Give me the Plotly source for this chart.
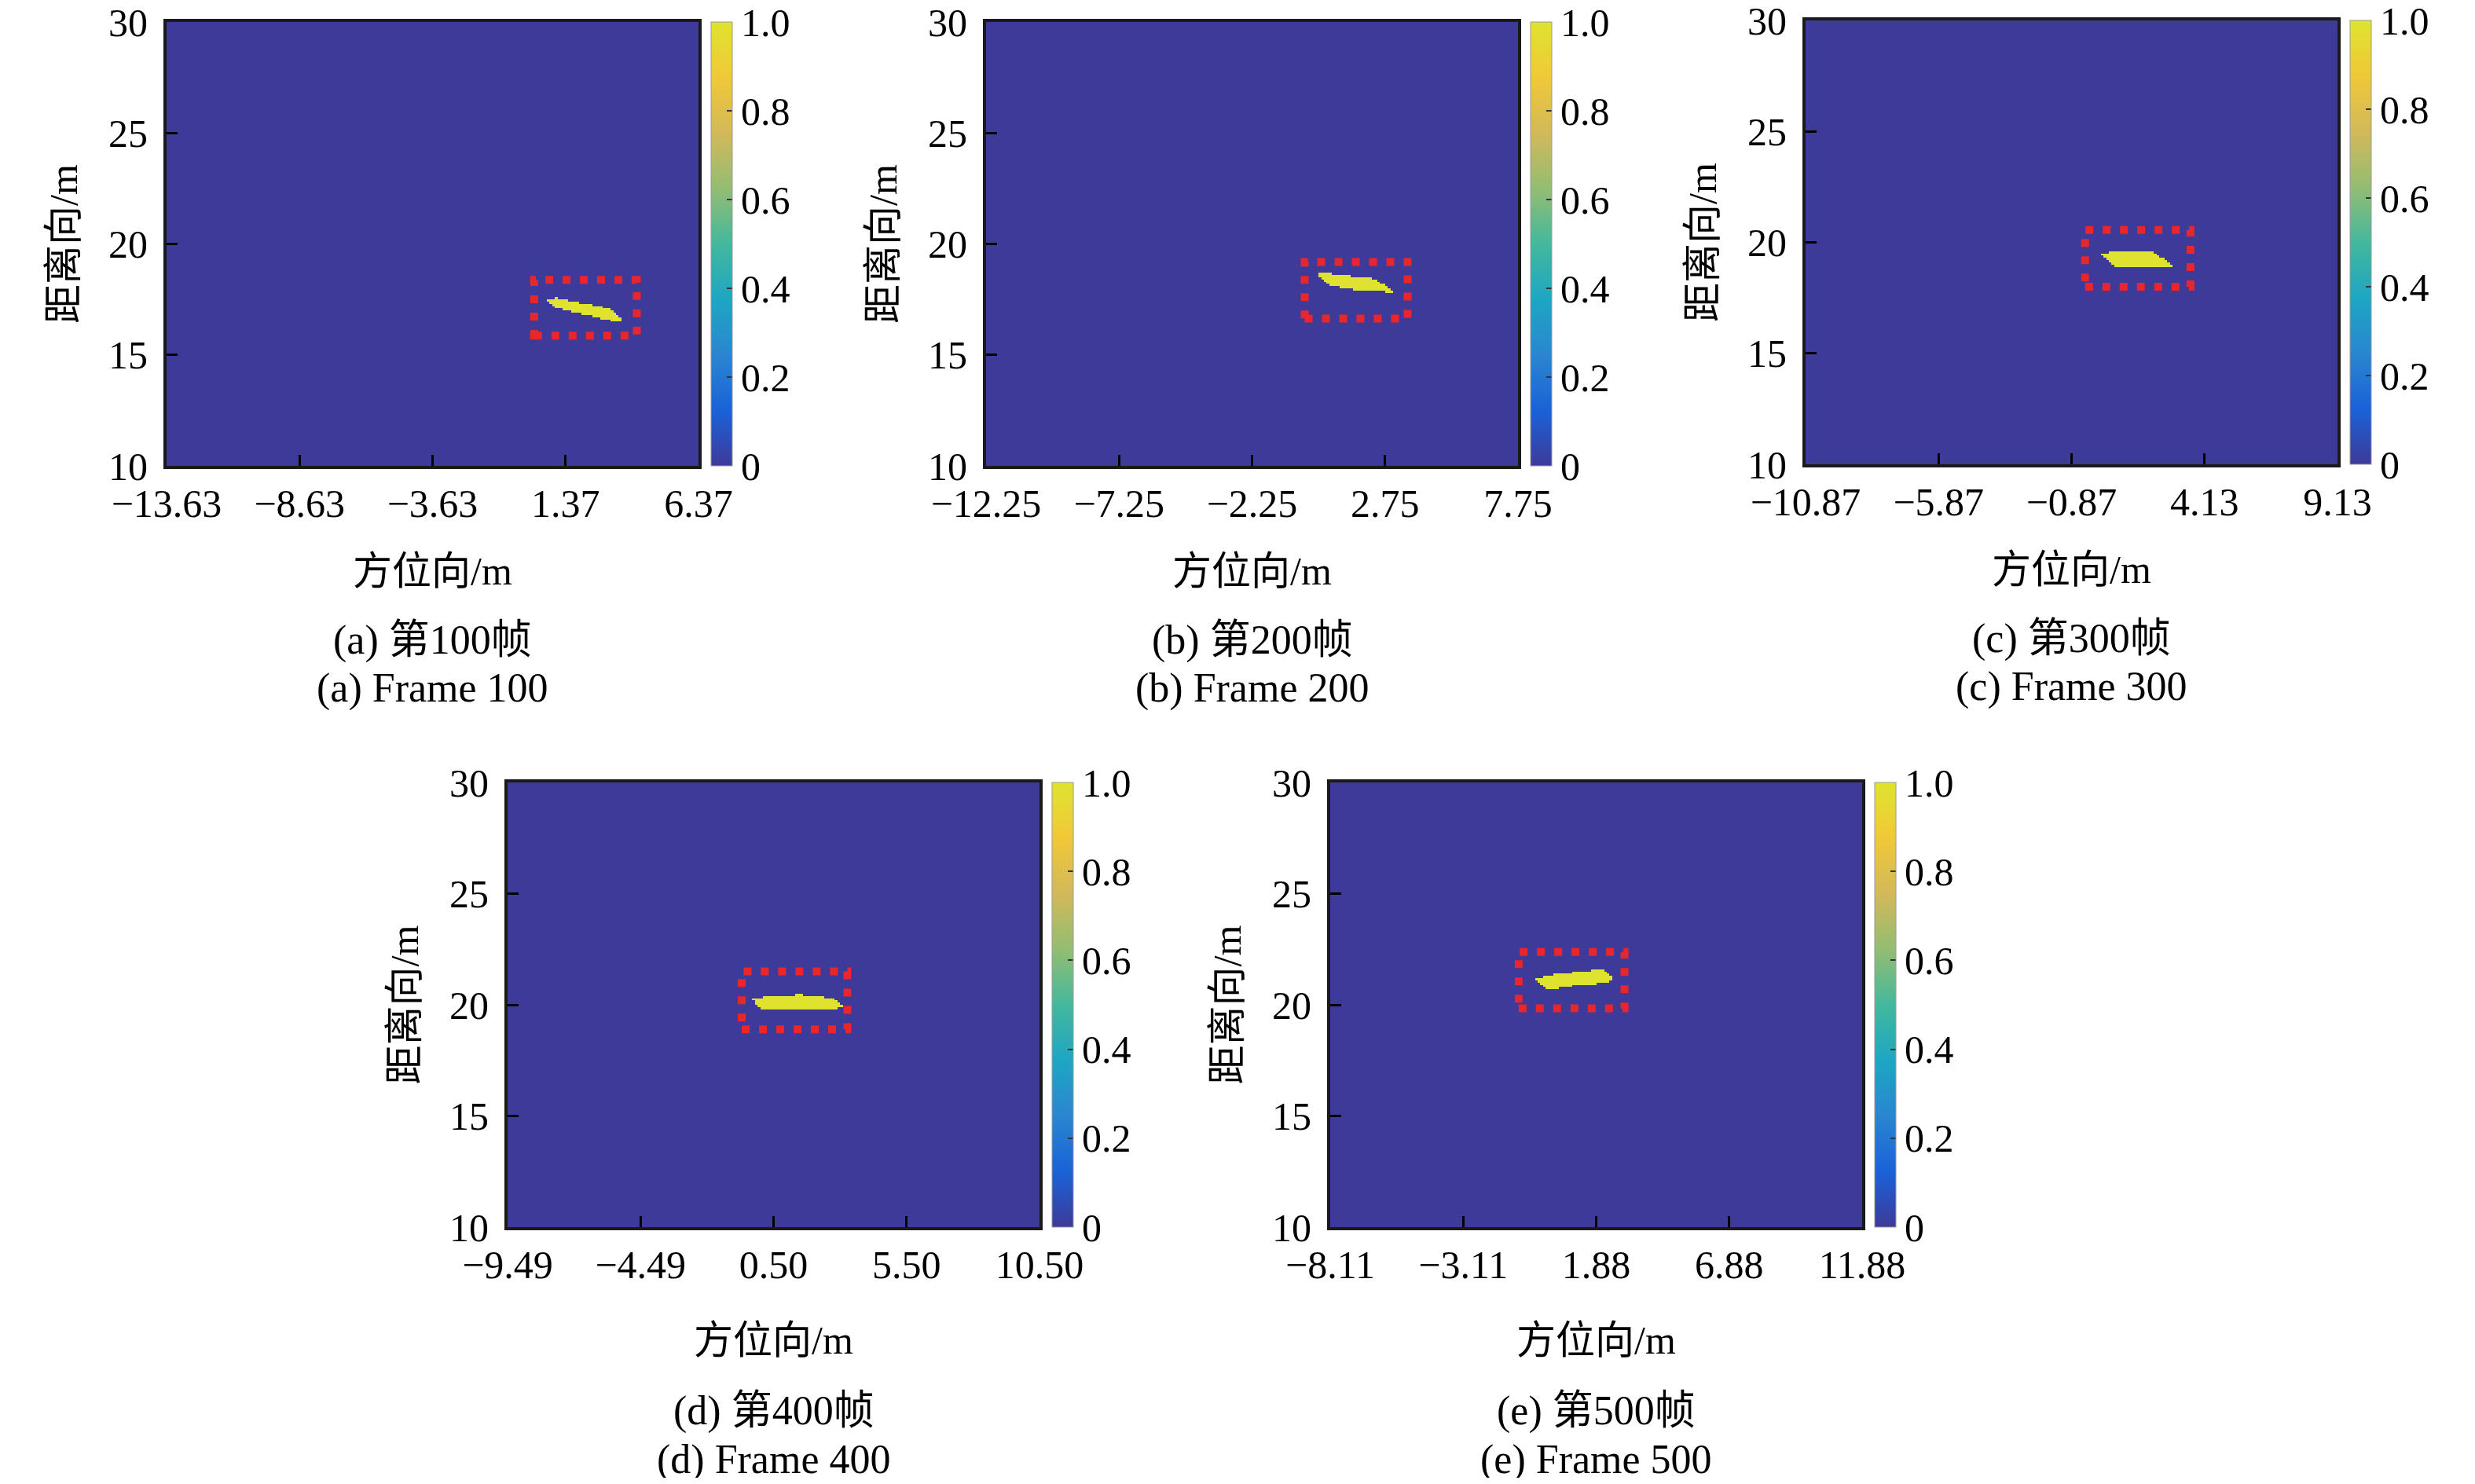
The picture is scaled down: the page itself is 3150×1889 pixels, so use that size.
import numpy as np
import plotly.graph_objects as go

# ---------------- data ----------------
panel_letters = ["a", "b", "c", "d", "e"]
frame_numbers = ["100", "200", "300", "400", "500"]

# azimuth axis (x) start of range for each frame, range width 20 m
x_range_start = [-13.63, -12.25, -10.87, -9.495, -8.115]
x_tick_labels = [
    ["−13.63", "−8.63", "−3.63", "1.37", "6.37"],
    ["−12.25", "−7.25", "−2.25", "2.75", "7.75"],
    ["−10.87", "−5.87", "−0.87", "4.13", "9.13"],
    ["−9.49", "−4.49", "0.50", "5.50", "10.50"],
    ["−8.11", "−3.11", "1.88", "6.88", "11.88"],
]
y_tick_values = [10, 15, 20, 25, 30]
cbar_tick_values = [0, 0.2, 0.4, 0.6, 0.8, 1.0]
cbar_tick_labels = ["0", "0.2", "0.4", "0.6", "0.8", "1.0"]

# detected target outline (azimuth m, range m) for each frame
blob_a_x = [0.64, 0.99, 1.87, 2.95, 3.35, 3.56, 2.95, 1.97, 0.99, 0.74]
blob_a_y = [17.49, 17.56, 17.35, 17.11, 16.82, 16.47, 16.58, 16.86, 17.11, 17.38]
blob_b_x = [0.20, 1.24, 2.18, 2.56, 3.09, 1.99, 1.24, 0.67, 0.26]
blob_b_y = [18.77, 18.56, 18.52, 18.27, 17.83, 17.89, 18.00, 18.14, 18.56]
blob_c_x = [0.17, 0.58, 1.15, 2.19, 2.56, 2.94, 2.66, 1.72, 0.77, 0.30]
blob_c_y = [19.50, 19.56, 19.60, 19.56, 19.29, 18.94, 18.87, 18.89, 18.94, 19.35]
blob_d_x = [-0.28, 0.35, 1.11, 1.30, 1.96, 2.71, 3.09, 2.81, 1.67, 0.35, 0.01, -0.16]
blob_d_y = [20.30, 20.38, 20.38, 20.46, 20.44, 20.30, 19.92, 19.79, 19.81, 19.79, 19.81, 20.06]
blob_e_x = [-0.42, 0.02, 0.87, 1.44, 2.10, 2.57, 2.38, 2.00, 1.25, 0.49, 0.02, -0.27]
blob_e_y = [21.15, 21.32, 21.43, 21.53, 21.58, 21.22, 21.05, 20.96, 20.90, 20.75, 20.73, 21.00]

# red dotted boxes (data units)
box_x0 = [0.19, -0.27, -0.36, -0.69, -1.03]
box_x1 = [4.05, 3.60, 3.60, 3.28, 2.95]
box_y0 = [15.87, 16.64, 18.00, 18.90, 19.84]
box_y1 = [18.38, 19.19, 20.56, 21.50, 22.38]

blobs = [(blob_a_x, blob_a_y), (blob_b_x, blob_b_y), (blob_c_x, blob_c_y),
         (blob_d_x, blob_d_y), (blob_e_x, blob_e_y)]

# ---------------- layout geometry (pixels in the 3150x1889 page) ----------------
OFF = 8                      # default page body margin
W, H = 3150 - 2 * OFF, 1889 - 2 * OFF
panels_px = [  # left, right, top, bottom
    (212, 889, 28, 593),
    (1255, 1932, 28, 593),
    (2298, 2975, 26, 591),
    (646, 1323, 996, 1562),
    (1693, 2370, 996, 1562),
]
caption_y_px = [(815, 876), (815, 876), (813, 874), (1796, 1858), (1796, 1858)]
xtitle_standoff = [42, 42, 42, 52, 52]

FONT = "Liberation Serif, Noto Sans CJK SC"
FS = 50
FS_CAP = 52

parula = [
    [0.0, "#3e3a99"], [0.125, "#1a62d8"], [0.25, "#2a86d0"], [0.375, "#1ea6c3"],
    [0.5, "#44b89d"], [0.625, "#93bd72"], [0.75, "#d2b95a"], [0.875, "#f0c838"],
    [1.0, "#dfe32f"],
]


def rasterize(px, py, xc, yc):
    X, Y = np.meshgrid(xc, yc)
    inside = np.zeros(X.shape, dtype=bool)
    n = len(px)
    j = n - 1
    for i in range(n):
        xi, yi, xj, yj = px[i], py[i], px[j], py[j]
        if yi != yj:
            cond = ((yi > Y) != (yj > Y)) & (X < (xj - xi) * (Y - yi) / (yj - yi) + xi)
            inside ^= cond
        j = i
    return inside.astype(float)


fig = go.Figure()
step = 0.1
for k in range(5):
    l, r, t, b = [v - OFF for v in panels_px[k]]
    x0 = x_range_start[k]
    xc = np.round(np.arange(x0 + step / 2, x0 + 20, step), 4)
    yc = np.round(np.arange(10 + step / 2, 30, step), 4)
    z = rasterize(blobs[k][0], blobs[k][1], xc, yc)
    sfx = "" if k == 0 else str(k + 1)
    fig.add_trace(go.Heatmap(
        x=xc, y=yc, z=z, zmin=0, zmax=1, colorscale=parula, zsmooth=False,
        xaxis="x" + sfx, yaxis="y" + sfx, hoverinfo="skip",
        colorbar=dict(
            x=(r + 16) / W, xanchor="left", xpad=0,
            y=1 - (t + b) / 2 / H, yanchor="middle", ypad=0,
            len=b - t, lenmode="pixels", thickness=27,
            outlinecolor="#9a9a9a", outlinewidth=1,
            tickmode="array", tickvals=cbar_tick_values, ticktext=cbar_tick_labels,
            ticks="inside", ticklen=7, tickcolor="#333", tickwidth=2,
            ticklabeloverflow="allow",
            tickfont=dict(family=FONT, size=FS, color="black"),
        ),
    ))
    ticks_x = [x0 + 5 * i for i in range(5)]
    fig.layout["xaxis" + sfx] = dict(
        domain=[l / W, r / W], anchor="y" + sfx, range=[x0, x0 + 20],
        tickmode="array", tickvals=ticks_x, ticktext=x_tick_labels[k],
        ticks="inside", ticklen=14, tickwidth=3, tickcolor="black",
        showline=True, linewidth=4, linecolor="#1a1a1a", mirror=True,
        showgrid=False, zeroline=False, ticklabelstandoff=1, automargin=False,
        ticklabeloverflow="allow",
        tickfont=dict(family=FONT, size=FS, color="black"),
        title=dict(text="方位向/m", font=dict(family=FONT, size=FS, color="black"),
                   standoff=xtitle_standoff[k]),
    )
    fig.layout["yaxis" + sfx] = dict(
        domain=[1 - b / H, 1 - t / H], anchor="x" + sfx, range=[10, 30],
        tickmode="array", tickvals=y_tick_values,
        ticks="inside", ticklen=14, tickwidth=3, tickcolor="black",
        showline=True, linewidth=4, linecolor="#1a1a1a", mirror=True,
        showgrid=False, zeroline=False, ticklabelstandoff=10, automargin=False,
        ticklabeloverflow="allow",
        tickfont=dict(family=FONT, size=FS, color="black"),
        title=dict(text="距离向/m", font=dict(family=FONT, size=FS, color="black"), standoff=25),
    )
    fig.add_shape(type="rect", xref="x" + sfx, yref="y" + sfx,
                  x0=box_x0[k], x1=box_x1[k], y0=box_y0[k], y1=box_y1[k],
                  line=dict(color="#e8262c", width=10, dash="10px,12px"),
                  fillcolor="rgba(0,0,0,0)")
    cx = (l + r) / 2 / W
    cy1, cy2 = [v - OFF for v in caption_y_px[k]]
    fig.add_annotation(xref="paper", yref="paper", x=cx, y=1 - cy1 / H,
                       text=f"({panel_letters[k]}) 第{frame_numbers[k]}帧", showarrow=False,
                       xanchor="center", yanchor="middle",
                       font=dict(family=FONT, size=FS_CAP, color="black"))
    fig.add_annotation(xref="paper", yref="paper", x=cx, y=1 - cy2 / H,
                       text=f"({panel_letters[k]}) Frame {frame_numbers[k]}", showarrow=False,
                       xanchor="center", yanchor="middle",
                       font=dict(family=FONT, size=FS_CAP, color="black"))

fig.update_layout(
    width=W, height=H, margin=dict(l=0, r=0, t=0, b=0, autoexpand=False),
    paper_bgcolor="white", plot_bgcolor="white", showlegend=False,
    font=dict(family=FONT, size=FS, color="black"),
)
fig.write_html("out.html")
